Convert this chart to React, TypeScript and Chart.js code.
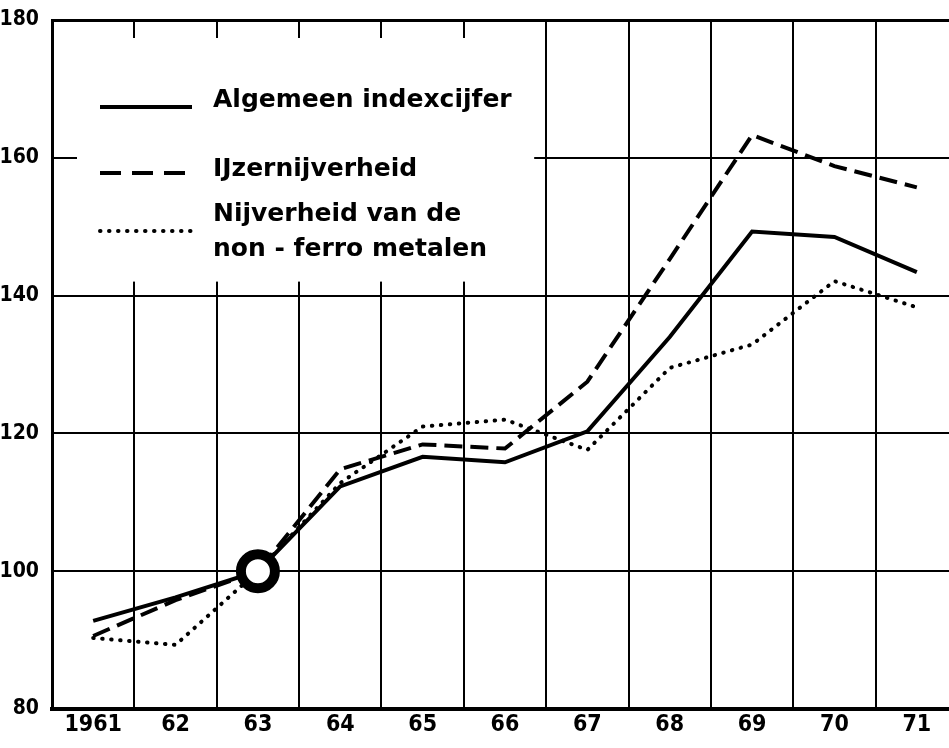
import React, { useEffect, useRef } from "react";
import { Chart, registerables } from "chart.js";

Chart.register(...registerables);

const years = ["1961", "62", "63", "64", "65", "66", "67", "68", "69", "70", "71"];
const algemeen = [92.8, 96.2, 100, 112.3, 116.6, 115.8, 120.3, 134.0, 149.3, 148.5, 143.4];
const ijzer = [90.6, 95.8, 100, 114.8, 118.4, 117.8, 127.5, 145.3, 163.3, 158.8, 155.7];
const nonFerro = [90.3, 89.3, 100, 112.8, 121.0, 122.0, 117.6, 129.5, 132.9, 142.1, 138.3];
const seriesLabels: string[][] = [
  ["Algemeen indexcijfer"],
  ["IJzernijverheid"],
  ["Nijverheid van de", "non - ferro metalen"],
];
const yMin = 80;
const yMax = 180;
const yStep = 20;

const tickFont = "'DejaVu Sans Condensed', 'DejaVu Sans', sans-serif";

const legendBoxPlugin = {
  id: "legendBox",
  beforeDatasetsDraw(chart: any) {
    const { ctx, chartArea, scales } = chart;
    const xs = scales.x;
    const ys = scales.y;
    const boundary = (xs.getPixelForValue(5) + xs.getPixelForValue(6)) / 2;
    const bx0 = chartArea.left + 25;
    const bx1 = boundary - 12;
    const by0 = chartArea.top + 18;
    const by1 = ys.getPixelForValue(140) - 14;
    ctx.save();
    ctx.fillStyle = "#ffffff";
    ctx.fillRect(bx0, by0, bx1 - bx0, by1 - by0);

    const sx0 = chartArea.left + 48;
    const sx1 = chartArea.left + 140;
    const tx = chartArea.left + 161;
    const rows = [
      { sy: chartArea.top + 87, ty: [chartArea.top + 87] },
      { sy: chartArea.top + 153, ty: [chartArea.top + 156] },
      { sy: chartArea.top + 211, ty: [chartArea.top + 201, chartArea.top + 236] },
    ];
    chart.data.datasets.forEach((ds: any, i: number) => {
      const r = rows[i];
      ctx.save();
      ctx.strokeStyle = "#000";
      ctx.lineWidth = ds.borderWidth;
      ctx.lineCap = ds.borderCapStyle || "butt";
      ctx.setLineDash(i === 1 ? [21, 11] : ds.borderDash || []);
      ctx.beginPath();
      ctx.moveTo(sx0, r.sy);
      ctx.lineTo(sx1, r.sy);
      ctx.stroke();
      ctx.restore();
      ctx.fillStyle = "#000";
      ctx.font = "bold 25px 'DejaVu Sans', sans-serif";
      ctx.textBaseline = "alphabetic";
      ctx.textAlign = "left";
      seriesLabels[i].forEach((t, j) => ctx.fillText(t, tx, r.ty[j]));
    });
    ctx.restore();
  },
};

export default function App() {
  const ref = useRef<HTMLCanvasElement | null>(null);
  useEffect(() => {
    if (!ref.current) return;
    const chart = new Chart(ref.current, {
      type: "line",
      data: {
        labels: years,
        datasets: [
          {
            label: seriesLabels[0].join(" "),
            data: algemeen,
            borderColor: "#000",
            borderWidth: 4,
            tension: 0,
            pointRadius: algemeen.map((_, i) => (i === 2 ? 17 : 0)),
            pointBorderWidth: 10,
            pointBorderColor: "#000",
            pointBackgroundColor: "#fff",
            pointHoverRadius: 0,
          },
          {
            label: seriesLabels[1].join(" "),
            data: ijzer,
            borderColor: "#000",
            borderWidth: 4,
            borderDash: [18, 8],
            tension: 0,
            pointRadius: 0,
          },
          {
            label: seriesLabels[2].join(" "),
            data: nonFerro,
            borderColor: "#000",
            borderWidth: 4,
            borderDash: [0.5, 8.5],
            borderCapStyle: "round",
            tension: 0,
            pointRadius: 0,
          },
        ],
      },
      options: {
        responsive: false,
        animation: false,
        events: [],
        layout: { padding: { top: 20, right: 2, left: 0, bottom: 0 } },
        plugins: { legend: { display: false }, tooltip: { enabled: false } },
        scales: {
          x: {
            offset: true,
            grid: {
              offset: true,
              color: "#000",
              lineWidth: 2,
              drawTicks: false,
            },
            border: { color: "#000", width: 4 },
            ticks: {
              color: "#000",
              padding: 2,
              font: { family: tickFont, size: 23, weight: "bold" },
              maxRotation: 0,
              autoSkip: false,
            },
            afterFit: (s: any) => {
              s.height = 39;
              s.paddingLeft = 0;
              s.paddingRight = 0;
            },
          },
          y: {
            min: yMin,
            max: yMax,
            grid: {
              color: "#000",
              lineWidth: (c: any) => (c.tick && c.tick.value === yMax ? 3 : 2),
              drawTicks: false,
            },
            border: { color: "#000", width: 3 },
            ticks: {
              stepSize: yStep,
              color: "#000",
              padding: 13,
              font: { family: tickFont, size: 21, weight: "bold" },
            },
            afterFit: (s: any) => {
              s.width = 52;
              s.paddingTop = 0;
              s.paddingBottom = 0;
            },
          },
        },
      },
      plugins: [legendBoxPlugin],
    } as any);
    return () => chart.destroy();
  }, []);
  return (
    <div
      style={{
        position: "fixed",
        left: 0,
        top: 0,
        width: 949,
        height: 748,
        overflow: "hidden",
        background: "#fff",
      }}
    >
      <canvas ref={ref} width={960} height={748} style={{ display: "block" }} />
    </div>
  );
}
